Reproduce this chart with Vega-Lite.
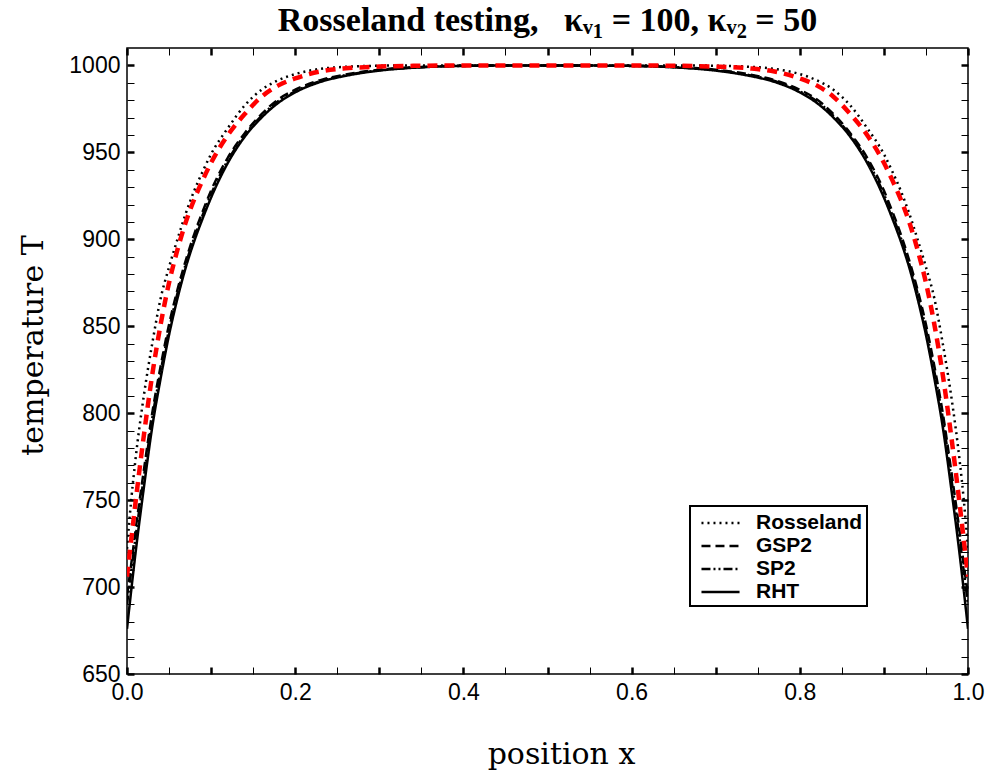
{
  "$schema": "https://vega.github.io/schema/vega-lite/v6.json",
  "width": 841,
  "height": 626,
  "autosize": {"type": "none"},
  "padding": {"left": 127, "top": 48, "right": 20, "bottom": 98},
  "background": "white",
  "title": {"text": "Rosseland testing,\u00a0\u00a0\u00a0κᵥ₁\u00a0=\u00a0100,\u00a0κᵥ₂\u00a0=\u00a050", "font": "Liberation Serif", "fontSize": 34, "fontWeight": "bold", "anchor": "middle", "offset": 9, "color": "black"},
  "config": {
    "view": {"stroke": "black", "strokeWidth": 1.5},
    "axis": {"grid": false, "domain": false, "tickColor": "black", "labelColor": "black", "titleColor": "black"},
    "legend": {"strokeWidth": 2}
  },
  "data": {"values": [
    {"x": 0, "RHT": 676, "GSP2": 695, "SP2": 690, "Red": 706, "Rosseland": 722},
    {"x": 0.005, "RHT": 698, "GSP2": 713, "SP2": 709, "Red": 727, "Rosseland": 750},
    {"x": 0.01, "RHT": 719, "GSP2": 732, "SP2": 728, "Red": 748, "Rosseland": 773},
    {"x": 0.02, "RHT": 757, "GSP2": 767, "SP2": 763, "Red": 787, "Rosseland": 810},
    {"x": 0.03, "RHT": 792, "GSP2": 800, "SP2": 797, "Red": 822, "Rosseland": 840},
    {"x": 0.04, "RHT": 820, "GSP2": 827, "SP2": 824, "Red": 851, "Rosseland": 866},
    {"x": 0.05, "RHT": 845, "GSP2": 851, "SP2": 848, "Red": 875, "Rosseland": 884},
    {"x": 0.06, "RHT": 866, "GSP2": 871, "SP2": 869, "Red": 894, "Rosseland": 900},
    {"x": 0.07, "RHT": 884, "GSP2": 888, "SP2": 886, "Red": 910, "Rosseland": 915},
    {"x": 0.08, "RHT": 899, "GSP2": 903, "SP2": 901, "Red": 923, "Rosseland": 928},
    {"x": 0.09, "RHT": 912, "GSP2": 916, "SP2": 914, "Red": 934, "Rosseland": 939},
    {"x": 0.1, "RHT": 924, "GSP2": 928, "SP2": 926, "Red": 944, "Rosseland": 949},
    {"x": 0.12, "RHT": 944, "GSP2": 947, "SP2": 945.5, "Red": 960, "Rosseland": 964},
    {"x": 0.14, "RHT": 959, "GSP2": 961, "SP2": 960, "Red": 972, "Rosseland": 977},
    {"x": 0.16, "RHT": 970, "GSP2": 972, "SP2": 971, "Red": 982, "Rosseland": 986},
    {"x": 0.18, "RHT": 978.5, "GSP2": 980.5, "SP2": 979.5, "Red": 988.5, "Rosseland": 991.5},
    {"x": 0.2, "RHT": 984.5, "GSP2": 986, "SP2": 985, "Red": 992.5, "Rosseland": 995},
    {"x": 0.23, "RHT": 990.5, "GSP2": 991.5, "SP2": 991, "Red": 996.5, "Rosseland": 998},
    {"x": 0.26, "RHT": 994, "GSP2": 994.8, "SP2": 994.4, "Red": 998.3, "Rosseland": 999.2},
    {"x": 0.3, "RHT": 997, "GSP2": 997.5, "SP2": 997.2, "Red": 999.3, "Rosseland": 999.8},
    {"x": 0.35, "RHT": 998.9, "GSP2": 999.1, "SP2": 999, "Red": 999.8, "Rosseland": 1000},
    {"x": 0.4, "RHT": 999.7, "GSP2": 999.8, "SP2": 999.7, "Red": 1000, "Rosseland": 1000},
    {"x": 0.5, "RHT": 1000, "GSP2": 1000, "SP2": 1000, "Red": 1000, "Rosseland": 1000},
    {"x": 0.6, "RHT": 999.7, "GSP2": 999.8, "SP2": 999.7, "Red": 1000, "Rosseland": 1000},
    {"x": 0.65, "RHT": 998.9, "GSP2": 999.1, "SP2": 999, "Red": 999.8, "Rosseland": 1000},
    {"x": 0.7, "RHT": 997, "GSP2": 997.5, "SP2": 997.2, "Red": 999.3, "Rosseland": 999.8},
    {"x": 0.74, "RHT": 994, "GSP2": 994.8, "SP2": 994.4, "Red": 998.3, "Rosseland": 999.2},
    {"x": 0.77, "RHT": 990.5, "GSP2": 991.5, "SP2": 991, "Red": 996.5, "Rosseland": 998},
    {"x": 0.8, "RHT": 984.5, "GSP2": 986, "SP2": 985, "Red": 992.5, "Rosseland": 995},
    {"x": 0.82, "RHT": 978.5, "GSP2": 980.5, "SP2": 979.5, "Red": 988.5, "Rosseland": 991.5},
    {"x": 0.84, "RHT": 970, "GSP2": 972, "SP2": 971, "Red": 982, "Rosseland": 986},
    {"x": 0.86, "RHT": 959, "GSP2": 961, "SP2": 960, "Red": 972, "Rosseland": 977},
    {"x": 0.88, "RHT": 944, "GSP2": 947, "SP2": 945.5, "Red": 960, "Rosseland": 964},
    {"x": 0.9, "RHT": 924, "GSP2": 928, "SP2": 926, "Red": 944, "Rosseland": 949},
    {"x": 0.91, "RHT": 912, "GSP2": 916, "SP2": 914, "Red": 934, "Rosseland": 939},
    {"x": 0.92, "RHT": 899, "GSP2": 903, "SP2": 901, "Red": 923, "Rosseland": 928},
    {"x": 0.93, "RHT": 884, "GSP2": 888, "SP2": 886, "Red": 910, "Rosseland": 915},
    {"x": 0.94, "RHT": 866, "GSP2": 871, "SP2": 869, "Red": 894, "Rosseland": 900},
    {"x": 0.95, "RHT": 845, "GSP2": 851, "SP2": 848, "Red": 875, "Rosseland": 884},
    {"x": 0.96, "RHT": 820, "GSP2": 827, "SP2": 824, "Red": 851, "Rosseland": 866},
    {"x": 0.97, "RHT": 792, "GSP2": 800, "SP2": 797, "Red": 822, "Rosseland": 840},
    {"x": 0.98, "RHT": 757, "GSP2": 767, "SP2": 763, "Red": 787, "Rosseland": 810},
    {"x": 0.99, "RHT": 719, "GSP2": 732, "SP2": 728, "Red": 748, "Rosseland": 773},
    {"x": 0.995, "RHT": 698, "GSP2": 713, "SP2": 709, "Red": 727, "Rosseland": 750},
    {"x": 1, "RHT": 676, "GSP2": 695, "SP2": 690, "Red": 706, "Rosseland": 722}
  ]},
  "layer": [
    {
      "transform": [{"fold": ["Rosseland", "GSP2", "SP2", "RHT"], "as": ["series", "T"]}],
      "mark": {"type": "line", "interpolate": "monotone", "strokeWidth": 2.5, "color": "black", "clip": true},
      "encoding": {
        "x": {"field": "x", "type": "quantitative", "scale": {"domain": [0, 1], "nice": false},
          "axis": {"orient": "bottom", "title": "position x", "titleFont": "DejaVu Serif", "titleFontSize": 30, "titleFontWeight": "normal", "titlePadding": 35, "titleX": 434, "titleAnchor": "middle",
            "values": [0, 0.05, 0.1, 0.15, 0.2, 0.25, 0.3, 0.35, 0.4, 0.45, 0.5, 0.55, 0.6, 0.65, 0.7, 0.75, 0.8, 0.85, 0.9, 0.95, 1],
            "labelExpr": "abs(datum.value*5 - round(datum.value*5)) < 0.001 ? format(datum.value, '.1f') : ''",
            "labelFont": "Liberation Sans", "labelFontSize": 23, "labelPadding": 14, "labelFlush": false,
            "tickSize": -7, "tickWidth": {"condition": {"test": "abs(datum.value*10 - round(datum.value*10)) < 0.001", "value": 2.5}, "value": 1}}},
        "y": {"field": "T", "type": "quantitative", "scale": {"domain": [650, 1010], "nice": false, "zero": false},
          "axis": {"orient": "left", "title": "temperature T", "titleFont": "DejaVu Serif", "titleFontSize": 30, "titleFontWeight": "normal", "titlePadding": 20, "titleY": 297, "titleAnchor": "middle",
            "values": [650, 660, 670, 680, 690, 700, 710, 720, 730, 740, 750, 760, 770, 780, 790, 800, 810, 820, 830, 840, 850, 860, 870, 880, 890, 900, 910, 920, 930, 940, 950, 960, 970, 980, 990, 1000],
            "labelExpr": "datum.value % 50 == 0 ? format(datum.value, 'd') : ''",
            "labelFont": "Liberation Sans", "labelFontSize": 23, "labelPadding": 14, "labelFlush": false,
            "tickSize": -7, "tickWidth": {"condition": {"test": "datum.value % 50 == 0", "value": 2.5}, "value": 1}}},
        "strokeDash": {"field": "series", "type": "nominal",
          "scale": {"domain": ["Rosseland", "GSP2", "SP2", "RHT"], "range": [[2, 4], [9, 5], [9, 3, 2, 3, 2, 3], [1, 0]]},
          "legend": {"orient": "none", "legendX": 563, "legendY": 458, "title": null, "strokeColor": "black", "fillColor": "white", "padding": 4,
            "labelFont": "Liberation Sans", "labelFontSize": 21, "labelFontWeight": "bold", "labelColor": "black", "labelOffset": 36,
            "symbolType": "M-0.48,0H2.83", "symbolSize": 529, "symbolStrokeWidth": 2.5, "symbolStrokeColor": "black", "rowPadding": 0}}
      }
    },
    {
      "mark": {"type": "line", "interpolate": "monotone", "strokeWidth": 4.5, "color": "#ff0000", "strokeDash": [10, 7], "clip": true},
      "encoding": {
        "x": {"field": "x", "type": "quantitative",
          "axis": {"orient": "top", "title": null, "labels": false,
            "values": [0, 0.05, 0.1, 0.15, 0.2, 0.25, 0.3, 0.35, 0.4, 0.45, 0.5, 0.55, 0.6, 0.65, 0.7, 0.75, 0.8, 0.85, 0.9, 0.95, 1],
            "tickSize": -7, "tickWidth": {"condition": {"test": "abs(datum.value*10 - round(datum.value*10)) < 0.001", "value": 2.5}, "value": 1}}},
        "y": {"field": "Red", "type": "quantitative",
          "axis": {"orient": "right", "title": null, "labels": false,
            "values": [650, 660, 670, 680, 690, 700, 710, 720, 730, 740, 750, 760, 770, 780, 790, 800, 810, 820, 830, 840, 850, 860, 870, 880, 890, 900, 910, 920, 930, 940, 950, 960, 970, 980, 990, 1000],
            "tickSize": -7, "tickWidth": {"condition": {"test": "datum.value % 50 == 0", "value": 2.5}, "value": 1}}}
      }
    }
  ],
  "resolve": {"axis": {"x": "independent", "y": "independent"}}
}
